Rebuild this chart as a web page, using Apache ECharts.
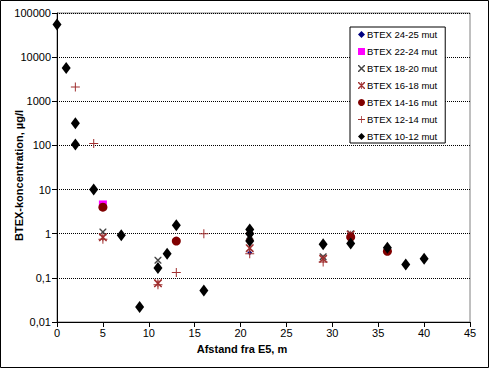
<!DOCTYPE html>
<html><head><meta charset="utf-8">
<script src="https://cdn.jsdelivr.net/npm/echarts@6/dist/echarts.min.js"></script>
<style>html,body{margin:0;padding:0;background:#fff}#c{width:490px;height:369px}</style>
</head><body><div id="c"></div>
<script>
// Tick labels
const xTicks = [0, 5, 10, 15, 20, 25, 30, 35, 40, 45];
const yTickLabels = ['0,01', '0,1', '1', '10', '100', '1000', '10000', '100000'];
const xAxisTitle = 'Afstand fra E5, m';
const yAxisTitle = 'BTEX-koncentration, µg/l';

// Series names (legend order)
const seriesNames = ['BTEX 24-25 mut', 'BTEX 22-24 mut', 'BTEX 18-20 mut', 'BTEX 16-18 mut', 'BTEX 14-16 mut', 'BTEX 12-14 mut', 'BTEX 10-12 mut'];

// Series values: distance (m) and concentration (µg/l)
const x_24_25 = [21];
const y_24_25 = [0.37];

const x_22_24 = [5];
const y_22_24 = [4.6];

const x_18_20 = [5, 11, 21, 29, 32];
const y_18_20 = [1.1, 0.25, 0.9, 0.3, 1.0];

const x_16_18 = [5, 11, 21, 21, 29, 32];
const y_16_18 = [0.83, 0.075, 0.85, 0.47, 0.27, 0.95];

const x_14_16 = [5, 13, 32, 36];
const y_14_16 = [4.0, 0.68, 0.84, 0.4];

const x_12_14 = [2, 4, 5, 11, 13, 16, 21, 29];
const y_12_14 = [2100, 110, 0.75, 0.07, 0.133, 1.0, 0.35, 0.23];

const x_10_12 = [0, 1, 2, 2, 4, 7, 9, 11, 12, 13, 16, 21, 21, 21, 29, 32, 36, 38, 40];
const y_10_12 = [55000, 5700, 320, 105, 10, 0.92, 0.022, 0.167, 0.35, 1.55, 0.052, 1.24, 1.0, 0.68, 0.58, 0.6, 0.48, 0.2, 0.27];

function zip(xs, ys) { return xs.map((x, i) => [x, ys[i]]); }

const PLUS = 'path://M0,4 L9,4 L9,5 L0,5 Z M4,0 L5,0 L5,9 L4,9 Z';
const XMARK = 'path://M0,0 L1.3,0 L9,7.7 L9,9 L7.7,9 L0,1.3 Z M9,0 L9,1.3 L1.3,9 L0,9 L0,7.7 L7.7,0 Z';
const STAR = 'path://M0,0 L1.3,0 L9,7.7 L9,9 L7.7,9 L0,1.3 Z M9,0 L9,1.3 L1.3,9 L0,9 L0,7.7 L7.7,0 Z M4,0 L5,0 L5,9 L4,9 Z';

const font = 'Arial, "Liberation Sans", sans-serif';

const chart = echarts.init(document.getElementById('c'), null, { renderer: 'svg' });
chart.setOption({
  animation: false,
  backgroundColor: '#fff',
  graphic: [{
    type: 'rect', shape: { x: 0.5, y: 0.5, width: 488, height: 367 },
    style: { fill: 'none', stroke: '#000', lineWidth: 1 }, z: 100, silent: true
  }],
  grid: { left: 57, right: 20, top: 13, bottom: 47, containLabel: false, outerBoundsMode: 'none', show: true, borderColor: '#808080', borderWidth: 1, backgroundColor: 'transparent' },
  legend: {
    orient: 'vertical', left: 350, top: 27,
    data: seriesNames,
    backgroundColor: '#fff', borderColor: '#000', borderWidth: 1, borderRadius: 0,
    padding: [2, 8, 1, 8], itemGap: 6, itemWidth: 7, itemHeight: 7,
    selectedMode: false,
    textStyle: { fontFamily: font, fontSize: 9.5, color: '#000', lineHeight: 11, padding: [0, 0, 0, -3] }
  },
  xAxis: {
    type: 'value', min: xTicks[0], max: xTicks[xTicks.length - 1], interval: 5,
    axisLine: { show: true, onZero: false, lineStyle: { color: '#000', width: 1 } },
    axisTick: { show: true, length: 5, lineStyle: { color: '#000' } },
    axisLabel: { color: '#000', fontFamily: font, fontSize: 11, margin: 5 },
    splitLine: { show: false },
    name: xAxisTitle, nameLocation: 'middle', nameGap: 21, nameMoveOverlap: false,
    nameTextStyle: { fontFamily: font, fontSize: 11, fontWeight: 'bold', color: '#000', padding: [0, 43, 0, 0] }
  },
  yAxis: {
    type: 'log', logBase: 10, min: 0.01, max: 100000,
    axisLine: { show: true, lineStyle: { color: '#000', width: 1 } },
    axisTick: { show: true, length: 5, lineStyle: { color: '#000' } },
    minorTick: { show: false },
    axisLabel: {
      color: '#000', fontFamily: font, fontSize: 11, margin: 6,
      formatter: v => yTickLabels[Math.round(Math.log10(v)) + 2]
    },
    splitLine: { show: true, lineStyle: { color: '#000', width: 1, type: [1, 1] } },
    name: yAxisTitle, nameLocation: 'middle', nameGap: 33, nameMoveOverlap: false,
    nameTextStyle: { fontFamily: font, fontSize: 11, fontWeight: 'bold', color: '#000', padding: [0, 16, 0, 0] }
  },
  series: [
    { name: seriesNames[0], type: 'scatter', data: zip(x_24_25, y_24_25), symbol: 'diamond', symbolSize: 5, itemStyle: { color: '#000080', opacity: 1 } },
    { name: seriesNames[1], type: 'scatter', data: zip(x_22_24, y_22_24), symbol: 'rect', symbolSize: 8, itemStyle: { color: '#ff00ff', opacity: 1 } },
    { name: seriesNames[2], type: 'scatter', data: zip(x_18_20, y_18_20), symbol: XMARK, symbolSize: 7, itemStyle: { color: '#444', opacity: 1 } },
    { name: seriesNames[3], type: 'scatter', data: zip(x_16_18, y_16_18), symbol: STAR, symbolSize: 8, itemStyle: { color: '#a03030', opacity: 1 } },
    { name: seriesNames[4], type: 'scatter', data: zip(x_14_16, y_14_16), symbol: 'circle', symbolSize: 9, itemStyle: { color: '#800000', opacity: 1 } },
    { name: seriesNames[5], type: 'scatter', data: zip(x_12_14, y_12_14), symbol: PLUS, symbolSize: 9, itemStyle: { color: '#a03030', opacity: 1 } },
    { name: seriesNames[6], type: 'scatter', data: zip(x_10_12, y_10_12), symbol: 'diamond', symbolSize: [9, 12], itemStyle: { color: '#000', opacity: 1 } }
  ]
});
</script>
</body></html>
